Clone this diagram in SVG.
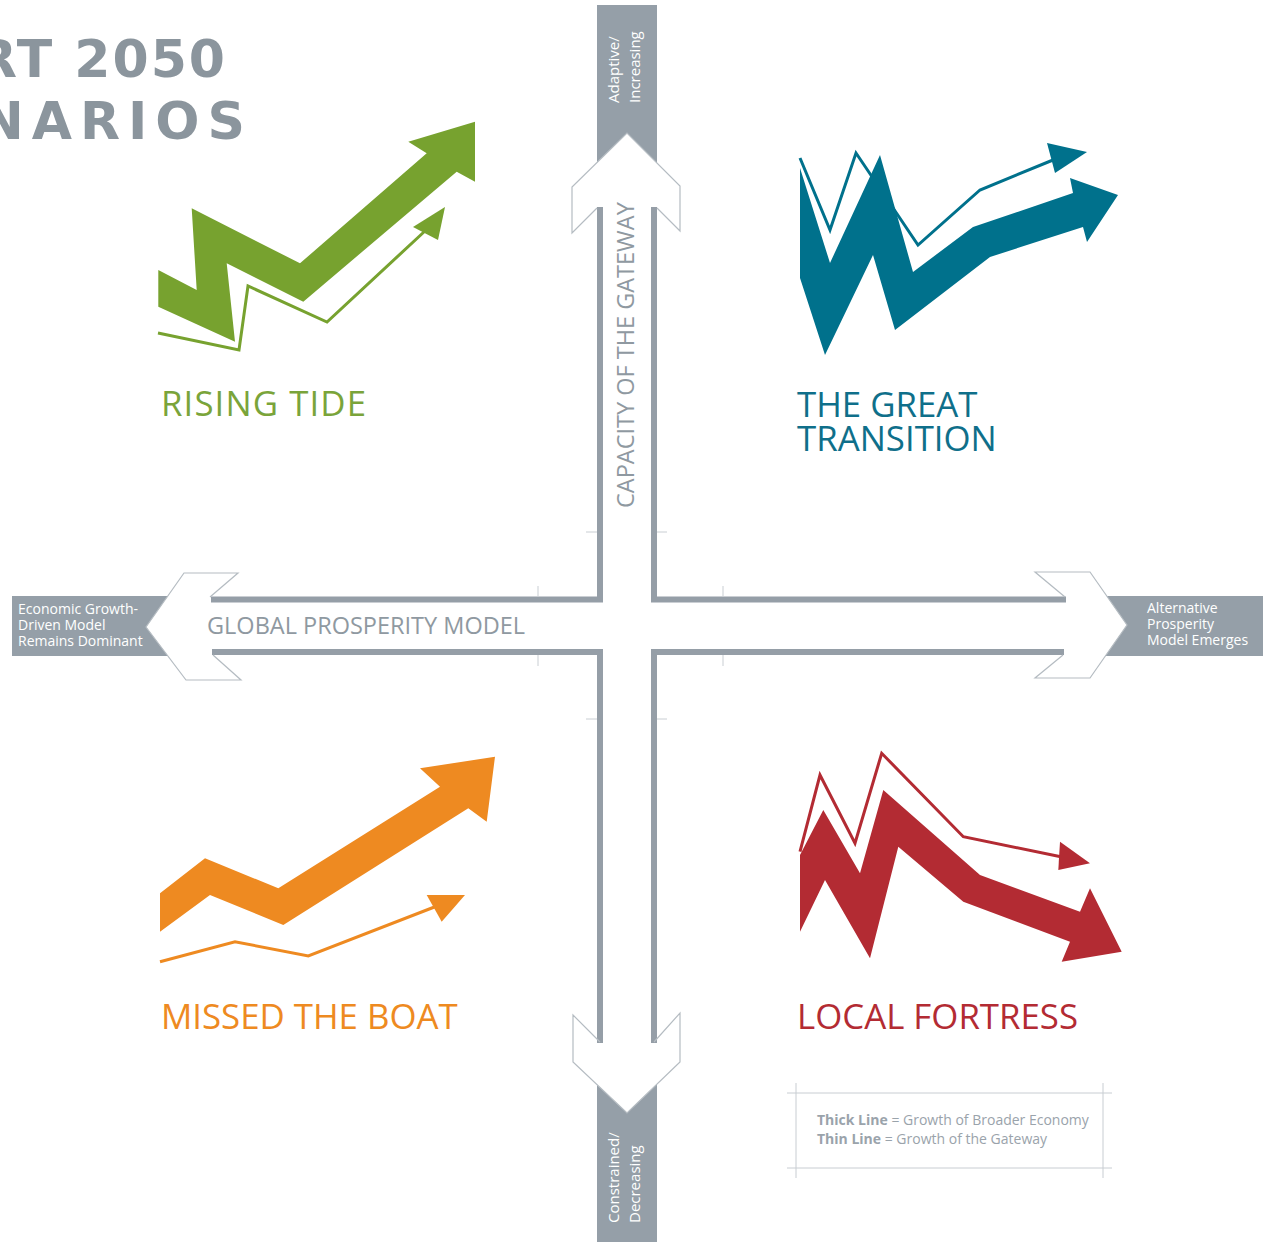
<svg xmlns="http://www.w3.org/2000/svg" width="1266" height="1243" viewBox="0 0 1266 1243">
<defs>
<style>
.bar{fill:none;stroke:#959ea7;stroke-width:6;stroke-linejoin:miter}
.lbl{fill:#959fa8}
.ahf{fill:#ffffff;stroke:none}
.aho{fill:none;stroke:#b5bcc2;stroke-width:1.2;stroke-linejoin:miter}
.tick{stroke:#c9ced3;stroke-width:1}
.wt{fill:#ffffff;font-family:"Open Sans","Liberation Sans",sans-serif;font-size:14px}
.vt{fill:#ffffff;font-family:"Open Sans","Liberation Sans",sans-serif;font-size:15px}
.axt{fill:#8f99a1;font-family:"Open Sans","Liberation Sans",sans-serif;font-size:23.5px}
.title{fill:#8b959d;font-family:"DejaVu Sans","Liberation Sans",sans-serif;font-size:52px;font-weight:bold}
.q{font-family:"Open Sans","Liberation Sans",sans-serif;font-size:34.8px}
.thin{fill:none;stroke-width:3;stroke-linejoin:miter}
.leg{fill:#9aa3ab;font-family:"Open Sans","Liberation Sans",sans-serif;font-size:14px}
.legl{stroke:#c8cdd2;stroke-width:1}
</style>
</defs>
<rect width="1266" height="1243" fill="#ffffff"/>

<g id="title">
<text class="title" x="227" y="77" text-anchor="end" letter-spacing="2">RT 2050</text>
<text class="title" x="253" y="139" text-anchor="end" letter-spacing="8">NARIOS</text>
</g>

<g id="connectors">
<rect class="lbl" x="597" y="5" width="60" height="203"/>
<rect class="lbl" x="597" y="1042" width="60" height="200"/>
<rect class="lbl" x="12" y="596" width="198" height="60"/>
<rect class="lbl" x="1066" y="596" width="197" height="60"/>
<polygon class="ahf" points="597,208 572,233 572,187 627,133 680,186 680,231 657,208"/>
<polygon class="ahf" points="600,1042 573,1015 573,1062 627,1113 680,1062 680,1013 654,1042"/>
<polygon class="ahf" points="212,597 238,573 184,573 146,627 186,680 241,680 213,655"/>
<polygon class="ahf" points="1065,597 1035,572 1090,572 1127,625 1090,678 1035,678 1063,655"/>
<path class="bar" d="M600,207 V599.5 H211"/>
<path class="bar" d="M654,207 V599.5 H1066"/>
<path class="bar" d="M600,1043 V652 H212"/>
<path class="bar" d="M654,1043 V652 H1064"/>
<polyline class="aho" points="597,208 572,233 572,187 627,133 680,186 680,231 657,208"/>
<polyline class="aho" points="600,1042 573,1015 573,1062 627,1113 680,1062 680,1013 654,1042"/>
<polyline class="aho" points="210,597 238,573 184,573 146,627 186,680 241,680 213,655"/>
<polyline class="aho" points="1065,597 1035,572 1090,572 1127,625 1090,678 1035,678 1063,655"/>
<line class="tick" x1="586" y1="532" x2="597" y2="532"/>
<line class="tick" x1="657" y1="532" x2="667" y2="532"/>
<line class="tick" x1="586" y1="719" x2="597" y2="719"/>
<line class="tick" x1="657" y1="719" x2="667" y2="719"/>
<line class="tick" x1="538" y1="586" x2="538" y2="597"/>
<line class="tick" x1="723" y1="586" x2="723" y2="597"/>
<line class="tick" x1="538" y1="655" x2="538" y2="666"/>
<line class="tick" x1="723" y1="655" x2="723" y2="666"/>
</g>

<g id="axis-labels">
<text class="axt" x="207" y="634">GLOBAL PROSPERITY MODEL</text>
<text class="axt" transform="translate(634,508) rotate(-90)">CAPACITY OF THE GATEWAY</text>
<text class="vt" transform="translate(619,103) rotate(-90)">Adaptive/</text>
<text class="vt" transform="translate(640,103) rotate(-90)">Increasing</text>
<text class="vt" transform="translate(619,1223) rotate(-90)">Constrained/</text>
<text class="vt" transform="translate(640,1223) rotate(-90)">Decreasing</text>
<text class="wt" x="18" y="614">Economic Growth-</text>
<text class="wt" x="18" y="630">Driven Model</text>
<text class="wt" x="18" y="646">Remains Dominant</text>
<text class="wt" x="1147" y="613">Alternative</text>
<text class="wt" x="1147" y="629">Prosperity</text>
<text class="wt" x="1147" y="645">Model Emerges</text>
</g>

<g id="rising-tide">
<polygon fill="#77a22f" points="158.3,270 196.7,290 191.7,208.3 300,263.3 426.7,153.3 408.3,141.7 475,121.7 475,181.7 456.7,171.7 303.3,301.7 226.7,263.3 235,341.7 158.3,306.7"/>
<polyline class="thin" stroke="#77a22f" stroke-width="2.5" points="158,333 239,350 248,286 327,322 425,231"/>
<polygon fill="#77a22f" points="413,227 445,207 438,240"/>
<text class="q" fill="#7aa43a" x="161" y="416" font-size="35.5" letter-spacing="1.1">RISING TIDE</text>
</g>

<g id="great-transition">
<polyline class="thin" stroke="#00718c" points="800,158 830,230 856,153 918,245 980,190 1053,160"/>
<polygon fill="#00718c" points="1047,143 1087,152 1055,173"/>
<polygon fill="#00718c" points="800,168 830,263 880,155 913,272 973,227 1073,193 1070,178 1118,195 1087,242 1083,227 990,257 895,330 873,255 825,355 800,278"/>
<text class="q" fill="#0f6f8a" x="797" y="417">THE GREAT</text>
<text class="q" fill="#0f6f8a" x="797" y="451">TRANSITION</text>
</g>

<g id="missed-the-boat">
<polygon fill="#ee8a21" points="160,893.3 205,858.3 278.3,888.3 440,786.7 420,768.3 495,756.7 486.7,821.7 468.3,808.3 283.3,925 210,895 160,931.7"/>
<polyline class="thin" stroke="#ee8a21" stroke-width="2.5" points="160,961.7 235,941.7 308.3,956 437,906"/>
<polygon fill="#ee8a21" points="426.7,895 465,895 441.7,921.7"/>
<text class="q" fill="#ee8a21" x="161" y="1029">MISSED THE BOAT</text>
</g>

<g id="local-fortress">
<polyline class="thin" stroke="#b32b33" points="800,851.7 820,775 855,843.3 881.7,753.3 963.3,836.7 1062,857"/>
<polygon fill="#b32b33" points="1060,841.7 1090,863.3 1058.3,870"/>
<polygon fill="#b32b33" points="800,855 823.3,810 860,873.3 883.3,790 980,875 1080,911.7 1090,888.3 1121.7,951.7 1061.7,961.7 1070,941.7 963.3,901.7 898.3,846.7 870,958.3 825,880 800,931.7"/>
<text class="q" fill="#b32b33" x="797" y="1029">LOCAL FORTRESS</text>
</g>

<g id="legend">
<line class="legl" x1="787" y1="1093" x2="1112" y2="1093"/>
<line class="legl" x1="787" y1="1168" x2="1112" y2="1168"/>
<line class="legl" x1="796" y1="1083" x2="796" y2="1178"/>
<line class="legl" x1="1103" y1="1083" x2="1103" y2="1178"/>
<text class="leg" x="817" y="1125"><tspan font-weight="bold">Thick Line</tspan> = Growth of Broader Economy</text>
<text class="leg" x="817" y="1144"><tspan font-weight="bold">Thin Line</tspan> = Growth of the Gateway</text>
</g>
</svg>
